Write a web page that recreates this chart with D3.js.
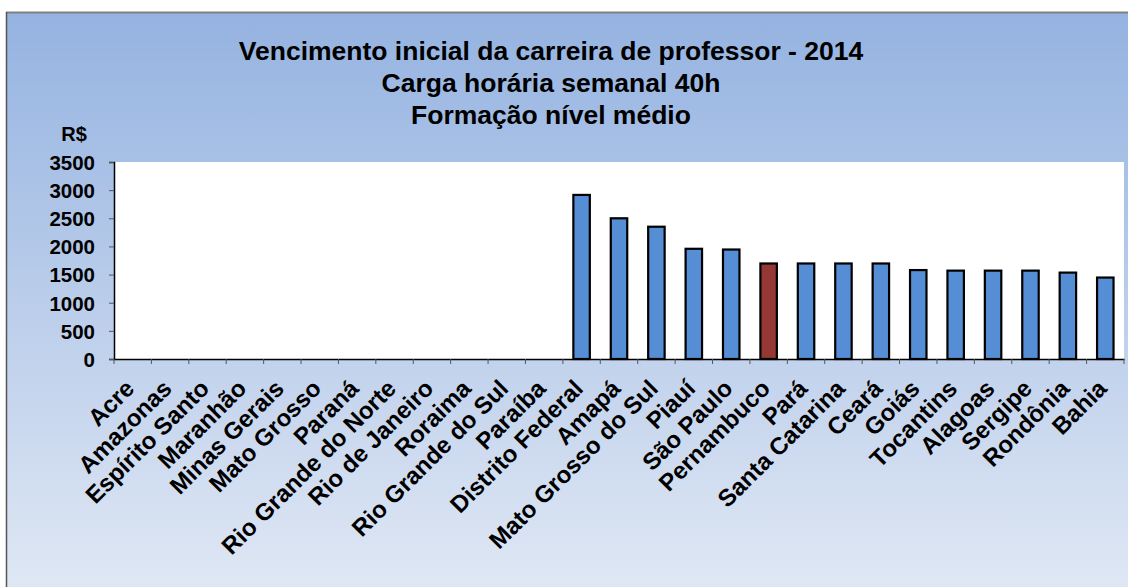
<!DOCTYPE html>
<html>
<head>
<meta charset="utf-8">
<script src="https://cdn.jsdelivr.net/npm/d3@7"></script>
<style>
  body { margin: 0; background: #fff; }
  svg text { font-family: Arial, "Liberation Sans", sans-serif; font-weight: bold; fill: #000; }
</style>
</head>
<body>
<svg id="chart" width="1128" height="587"></svg>
<script>
const states = ["Acre", "Amazonas", "Espírito Santo", "Maranhão", "Minas Gerais", "Mato Grosso",
  "Paraná", "Rio Grande do Norte", "Rio de Janeiro", "Roraima", "Rio Grande do Sul", "Paraíba",
  "Distrito Federal", "Amapá", "Mato Grosso do Sul", "Piauí", "São Paulo", "Pernambuco", "Pará",
  "Santa Catarina", "Ceará", "Goiás", "Tocantins", "Alagoas", "Sergipe", "Rondônia", "Bahia"];
const salaries = [null, null, null, null, null, null, null, null, null, null, null, null,
  2915, 2500, 2350, 1958, 1945, 1697, 1697, 1697, 1697, 1580, 1570, 1570, 1570, 1535, 1447];
const highlight = ["Pernambuco"];
const yTicks = [0, 500, 1000, 1500, 2000, 2500, 3000, 3500];
const titleLines = ["Vencimento inicial da carreira de professor - 2014",
  "Carga horária semanal 40h", "Formação nível médio"];

const svg = d3.select("#chart");
const margin = { left: 114, right: 1124, top: 162, bottom: 359 };

// background gradient
const defs = svg.append("defs");
const grad = defs.append("linearGradient").attr("id", "bg")
  .attr("x1", 0).attr("y1", 0).attr("x2", 0).attr("y2", 1);
grad.append("stop").attr("offset", "0%").attr("stop-color", "#95b3e1");
grad.append("stop").attr("offset", "100%").attr("stop-color", "#dfe7f4");

svg.append("rect")
  .attr("x", 7).attr("y", 13).attr("width", 1121).attr("height", 574)
  .attr("fill", "url(#bg)");
svg.append("line").attr("x1", 6).attr("x2", 1128).attr("y1", 12.5).attr("y2", 12.5)
  .attr("stroke", "#808080").attr("stroke-width", 2);
svg.append("line").attr("x1", 6.5).attr("x2", 6.5).attr("y1", 12).attr("y2", 587)
  .attr("stroke", "#555").attr("stroke-width", 1.5);

const x = d3.scaleBand().domain(states)
  .range([margin.left, margin.right]).paddingInner(0.56).paddingOuter(0.28);
const xTick = d3.scaleBand().domain(states).range([margin.left, margin.right]);
const y = d3.scaleLinear().domain([0, 3500]).range([margin.bottom, margin.top]);

// plot area
svg.append("rect")
  .attr("x", margin.left).attr("y", margin.top)
  .attr("width", margin.right - margin.left).attr("height", margin.bottom - margin.top)
  .attr("fill", "#fff");

// title
svg.append("g").selectAll("text").data(titleLines).join("text")
  .attr("x", 551).attr("y", (d, i) => 60 + i * 32)
  .attr("text-anchor", "middle").style("font-size", "26.5px")
  .text(d => d);

svg.append("text").attr("x", 74).attr("y", 141).attr("text-anchor", "middle")
  .style("font-size", "20px").text("R$");

// bars
const data = states.map((s, i) => ({ state: s, value: salaries[i] })).filter(d => d.value != null);
svg.append("g").selectAll("rect").data(data).join("rect")
  .attr("x", d => x(d.state))
  .attr("y", d => y(d.value))
  .attr("width", x.bandwidth())
  .attr("height", d => y(0) - y(d.value))
  .attr("fill", d => highlight.includes(d.state) ? "#953735" : "#558ed5")
  .attr("stroke", "#000").attr("stroke-width", 2.2);

// y axis
const yAxis = svg.append("g").attr("transform", `translate(${margin.left},0)`)
  .call(d3.axisLeft(y).tickValues(yTicks).tickSize(5).tickPadding(14).tickFormat(d3.format("d")));
yAxis.attr("font-family", null).attr("font-size", null);
yAxis.select(".domain").attr("stroke", "#000").attr("stroke-width", 1.5);
yAxis.selectAll(".tick line").attr("stroke", "#555");
yAxis.selectAll("text").style("font-size", "20.5px").attr("dy", "0.36em");

// x axis
const xAxis = svg.append("g").attr("transform", `translate(0,${margin.bottom})`)
  .call(d3.axisBottom(xTick).tickSize(0).tickFormat(""));
xAxis.select(".domain").attr("stroke", "#000").attr("stroke-width", 1.5);
const edges = d3.range(states.length + 1).map(i => margin.left + i * xTick.step());
svg.append("g").selectAll("line").data(edges).join("line")
  .attr("x1", d => d).attr("x2", d => d)
  .attr("y1", margin.bottom).attr("y2", margin.bottom + 5)
  .attr("stroke", "#555");

svg.append("g").selectAll("text").data(states).join("text")
  .attr("transform", d => `translate(${xTick(d) + xTick.bandwidth() / 2 + 3},${margin.bottom + 31}) rotate(-45)`)
  .attr("text-anchor", "end").style("font-size", "24px")
  .text(d => d);
</script>
</body>
</html>
